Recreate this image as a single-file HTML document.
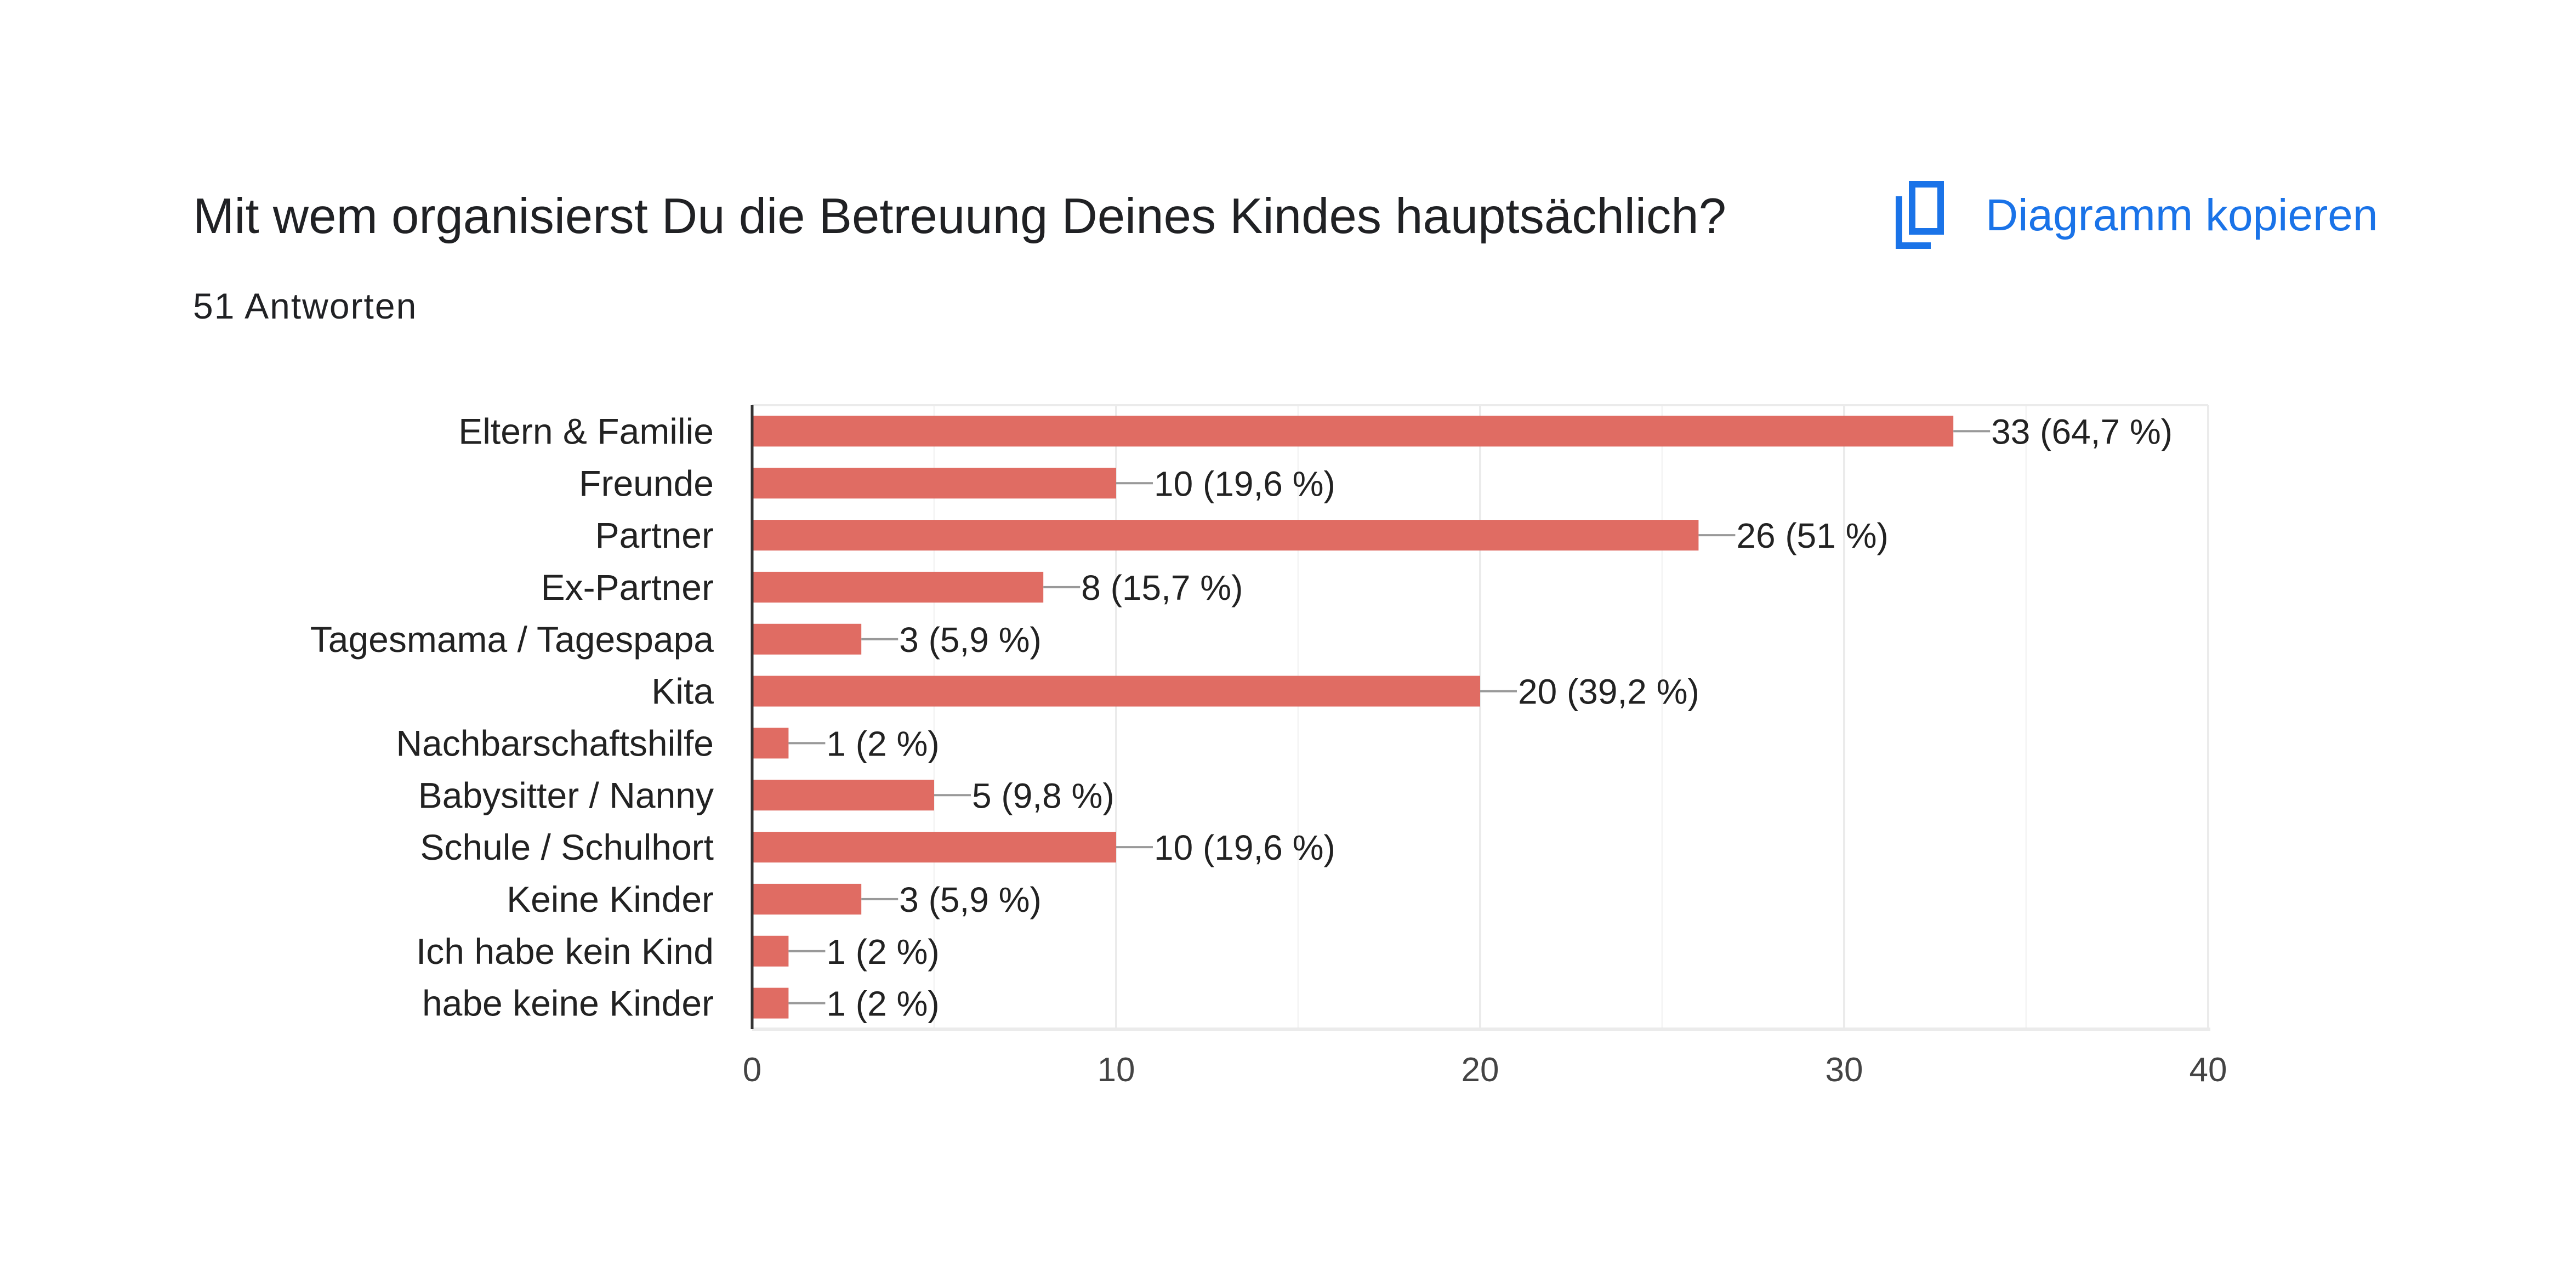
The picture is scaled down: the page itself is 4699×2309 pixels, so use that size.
<!DOCTYPE html>
<html><head><meta charset="utf-8">
<style>
html,body{margin:0;padding:0;background:#fff;}
body{width:4699px;height:2309px;position:relative;overflow:hidden;font-family:"Liberation Sans",Arial,sans-serif;}
</style></head>
<body>
<div style="position:absolute;left:352px;top:340px;font-size:90.5px;color:#202124;white-space:nowrap;line-height:110px;">Mit wem organisierst Du die Betreuung Deines Kindes hauptsächlich?</div>
<div style="position:absolute;left:352px;top:518px;font-size:66px;color:#202124;white-space:nowrap;line-height:80px;letter-spacing:2px;">51 Antworten</div>
<div style="position:absolute;left:3450px;top:330px;width:920px;height:125px;">
  <svg width="100" height="125" style="position:absolute;left:0;top:0" viewBox="0 0 100 125">
    <path d="M38 6 H90 V92 H38 Z" fill="none" stroke="#1a73e8" stroke-width="12"/>
    <path d="M14 28 V118 H72" fill="none" stroke="#1a73e8" stroke-width="12"/>
  </svg>
  <div style="position:absolute;left:172px;top:18px;font-size:82px;color:#1a73e8;white-space:nowrap;line-height:90px;">Diagramm kopieren</div>
</div>
<svg id="chart" width="4699" height="2309" style="position:absolute;left:0;top:0"></svg>
<script>
const categories=["Eltern & Familie","Freunde","Partner","Ex-Partner","Tagesmama / Tagespapa","Kita","Nachbarschaftshilfe","Babysitter / Nanny","Schule / Schulhort","Keine Kinder","Ich habe kein Kind","habe keine Kinder"];
const values=[33,10,26,8,3,20,1,5,10,3,1,1];
const valueLabels=["33 (64,7 %)","10 (19,6 %)","26 (51 %)","8 (15,7 %)","3 (5,9 %)","20 (39,2 %)","1 (2 %)","5 (9,8 %)","10 (19,6 %)","3 (5,9 %)","1 (2 %)","1 (2 %)"];
const ticks=[0,10,20,30,40];
const minorTicks=[5,15,25,35];

const svg=document.getElementById('chart');
const NS='http://www.w3.org/2000/svg';
const x0=1372,x1=4028,yTop=739,yBot=1877,xMax=40;
const xs=v=>x0+(x1-x0)*v/xMax;
const band=(yBot-yTop)/categories.length;
const yc=i=>yTop+band*(i+0.5);
const barH=56;
function mk(tag,attrs){const e=document.createElementNS(NS,tag);for(const k in attrs)e.setAttribute(k,attrs[k]);svg.appendChild(e);return e;}

minorTicks.forEach(t=>{
  const l=mk('line',{x1:xs(t),x2:xs(t),y1:yTop,y2:yBot,stroke:'#f4f4f4','stroke-width':3});
  
  
});
ticks.forEach(t=>{
  const l=mk('line',{x1:xs(t),x2:xs(t),y1:yTop,y2:yBot,stroke:'#ebebeb','stroke-width':4});
  
  
  const tx=mk('text',{x:xs(t),y:1972,'text-anchor':'middle','font-size':62,fill:'#444'});
  tx.textContent=t;
  
  
});
const topBorder=mk('line',{x1:x0,x2:x1,y1:yTop,y2:yTop,stroke:'#ebebeb','stroke-width':4});


const botBorder=mk('line',{x1:x0,x2:x1+4,y1:yBot,y2:yBot,stroke:'#ebebeb','stroke-width':6});



categories.forEach((c,i)=>{
  const y=yc(i);
  const r=mk('rect',{x:x0,y:y-barH/2,width:xs(values[i])-x0,height:barH,fill:'#e06c63'});
  
  
  const ln=mk('line',{x1:xs(values[i]),x2:xs(values[i])+67,y1:y,y2:y,stroke:'#999','stroke-width':4});
  
  
  const vt=mk('text',{x:xs(values[i])+69,y:y+23,'font-size':64,fill:'#222'});
  vt.textContent=valueLabels[i];
  
  
  const ct=mk('text',{x:1302,y:y+23,'text-anchor':'end','font-size':66,fill:'#222'});
  ct.textContent=c;
  
  
});
const yAxis=mk('line',{x1:x0,x2:x0,y1:yTop,y2:yBot,stroke:'#333','stroke-width':5});


</script>
</body></html>
